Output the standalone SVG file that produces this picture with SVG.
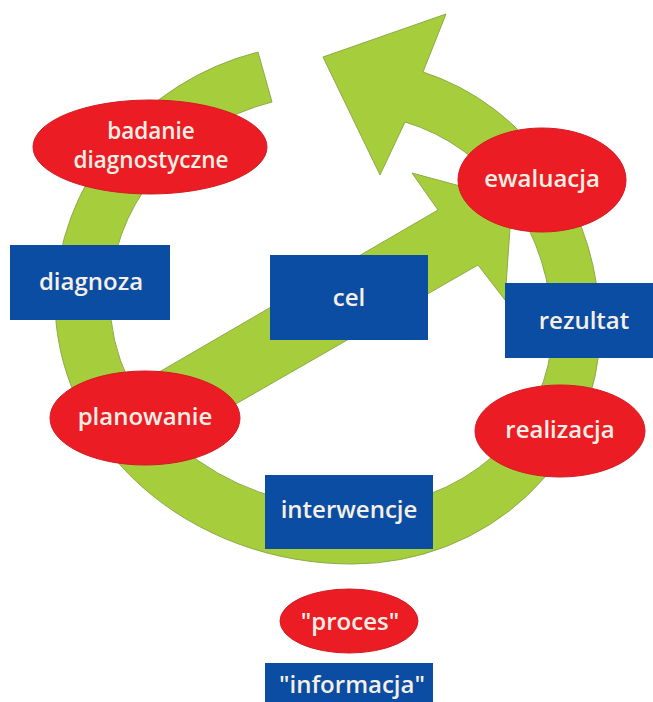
<svg xmlns="http://www.w3.org/2000/svg" width="653" height="702" viewBox="0 0 653 702">
<style>
.g{fill:#a5cd3c;stroke:#8dab48;stroke-width:1;stroke-linejoin:miter}
.p{fill:#ec1c24;stroke:#d31a22;stroke-width:1}
.b{fill:#0b4da2}
.t{font-family:"Open Sans","Noto Sans","Liberation Sans",sans-serif;font-size:24px;font-weight:600;fill:#f6efe6;text-anchor:middle}
.s{font-size:22.5px}
</style>
<rect width="653" height="702" fill="#ffffff"/>
<g id="connectors">
<path id="cycle" class="g" d="M258,52 A273,263 0 0 0 55,300 A297,264 0 0 0 352,564 A248,234 0 0 0 600,330 A248,268 0 0 0 423,72 L446,14 L323,57 L380,175 L405,122 A200,216 0 0 1 552,330 A200,178 0 0 1 352,508 A242,208 0 0 1 110,300 A220,205 0 0 1 272,102 Z"/>
<path id="diagonal" class="g" d="M130,389 L438,210 L412,173 L512,200 L505,300 L478,265 L180,436 Z"/>
</g>
<g id="badanie"><ellipse class="p" cx="150" cy="147" rx="117" ry="47"/><text class="t s" x="151" y="139">badanie</text><text class="t s" x="151" y="168">diagnostyczne</text></g>
<g id="ewaluacja"><ellipse class="p" cx="542" cy="180" rx="84" ry="52"/><text class="t" x="542" y="187">ewaluacja</text></g>
<g id="planowanie"><ellipse class="p" cx="145" cy="418" rx="95" ry="47"/><text class="t" x="145" y="425">planowanie</text></g>
<g id="realizacja"><ellipse class="p" cx="560" cy="431" rx="85" ry="46"/><text class="t" x="560" y="438">realizacja</text></g>
<g id="diagnoza"><rect class="b" x="10" y="245" width="160" height="75"/><text class="t" x="91" y="290">diagnoza</text></g>
<g id="cel"><rect class="b" x="270" y="255" width="158" height="85"/><text class="t" x="349" y="306">cel</text></g>
<g id="rezultat"><rect class="b" x="505" y="283" width="148" height="75"/><text class="t" x="584" y="329">rezultat</text></g>
<g id="interwencje"><rect class="b" x="265" y="475" width="168" height="74"/><text class="t" x="349" y="518">interwencje</text></g>
<g id="proces"><ellipse class="p" cx="349" cy="621" rx="69" ry="32"/><text class="t" x="350" y="630">"proces"</text></g>
<g id="informacja"><rect class="b" x="265" y="663" width="168" height="39"/><text class="t" x="352" y="693">"informacja"</text></g>
</svg>
